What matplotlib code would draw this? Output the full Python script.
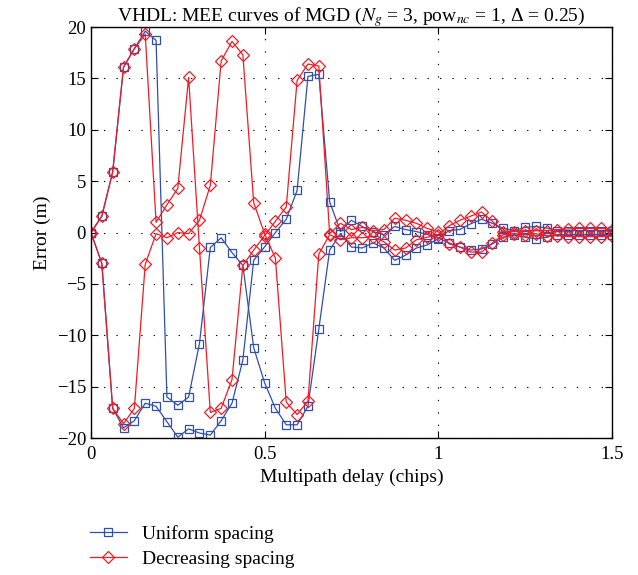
import numpy as np
import matplotlib
matplotlib.use('Agg')
import matplotlib.pyplot as plt
from matplotlib.lines import Line2D

plt.rcParams['font.family'] = ['Liberation Serif', 'DejaVu Serif']
plt.rcParams['mathtext.fontset'] = 'stix'

# multipath delay in chips, step 1/32
delay = np.arange(49) / 32.0

# uniform spacing, two envelope branches
uniform_a = [0, 1.6, 5.9, 16.1, 17.9, 19.6, 18.7, -16.0, -16.8, -16.0,
             -10.8, -1.45, -0.5, -1.95, -3.2, -11.2, -14.6, -17.1, -18.7, -18.7,
             -16.9, -9.4, -1.7, -0.1, -1.4, -1.5, -1.0, -1.5, -2.7, -2.2,
             -1.5, -1.2, -0.6, 0.2, 0.3, 0.85, 1.3, 0.9, 0.4, 0.2,
             0.5, 0.6, 0.45, 0.2, 0.2, 0.2, 0.2, 0.2, 0.2]
uniform_b = [0, -3.0, -17.1, -19.0, -18.3, -16.6, -16.9, -18.4, -19.9, -19.1,
             -19.5, -19.7, -18.3, -16.6, -12.4, -2.7, -1.4, 0.0, 1.3, 4.1,
             15.2, 15.4, 3.0, 0.1, 1.2, 0.6, 0.1, -0.2, 0.6, 0.3,
             0.1, -0.2, -0.5, -1.0, -1.4, -1.7, -1.6, -1.1, -0.45, -0.2,
             -0.45, -0.6, -0.45, -0.2, -0.2, -0.2, -0.2, -0.2, -0.2]

# decreasing spacing, two envelope branches
decreasing_a = [0, 1.6, 5.9, 16.1, 17.9, 19.3, 1.0, 2.7, 4.3, 15.1,
                -1.5, -17.5, -17.1, -14.3, -3.2, -1.7, -0.3, 1.1, 2.5, 14.8,
                16.4, 16.2, -0.1, 0.9, 0.3, 0.5, 0.2, 0.3, 1.4, 1.2,
                0.9, 0.4, 0.1, -1.1, -1.4, -1.9, -1.9, -1.0, -0.2, -0.1,
                -0.2, -0.1, -0.3, -0.3, -0.4, -0.4, -0.4, -0.4, -0.35]
decreasing_b = [0, -3.0, -17.1, -18.6, -17.1, -3.1, -0.1, -0.5, 0.0, -0.1,
                1.2, 4.6, 16.7, 18.6, 17.3, 2.9, -0.1, -2.5, -16.5, -17.7,
                -16.4, -2.1, -0.2, -0.7, -0.5, -0.5, -0.4, -0.9, -1.7, -1.5,
                -0.7, -0.45, -0.2, 0.65, 1.2, 1.6, 2.0, 1.1, 0.1, 0.1,
                0.2, 0.2, 0.2, 0.3, 0.35, 0.4, 0.4, 0.4, 0.3]

blue = '#2f4fa8'
red = '#ee1c25'

fig = plt.figure(figsize=(6.38, 5.75), dpi=100)
ax = fig.add_axes([0.1426, 0.238, 0.8162, 0.715])

blue_style = dict(color=blue, lw=0.9, marker='s', markersize=6.3,
                  markerfacecolor='none', markeredgewidth=0.9)
red_style = dict(color=red, lw=0.9, marker='D', markersize=6.0,
                 markerfacecolor='none', markeredgewidth=0.9)

for ys in (uniform_a, uniform_b):
    ax.plot(delay, ys, **blue_style)
for ys in (decreasing_a, decreasing_b):
    ax.plot(delay, ys, **red_style)

ax.set_xlim(0, 1.5)
ax.set_ylim(-20, 20)
ax.set_xticks([0, 0.5, 1, 1.5])
ax.set_xticklabels(['0', '0.5', '1', '1.5'])
ax.set_yticks(np.arange(-20, 21, 5))
ax.tick_params(direction='in', top=True, right=True, labelsize=13.5, length=5)
ax.tick_params(axis='x', pad=6)
ax.grid(True, color='black', linestyle=(0, (1.2, 10)), linewidth=0.8)
for s in ax.spines.values():
    s.set_linewidth(1.0)

ax.set_xlabel('Multipath delay (chips)', fontsize=14)
ax.set_ylabel('Error (m)', fontsize=14)
ax.set_title(r'VHDL: MEE curves of MGD ($N_g$ = 3, pow$_{nc}$ = 1, Δ = 0.25)',
             fontsize=14, pad=4)

handles = [Line2D([], [], **blue_style), Line2D([], [], **red_style)]
fig.legend(handles, ['Uniform spacing', 'Decreasing spacing'],
           loc='upper left', bbox_to_anchor=(0.141, 0.087), frameon=False,
           fontsize=14, handlelength=1.9, handletextpad=0.8, labelspacing=0.4,
           borderaxespad=0, borderpad=0)

fig.savefig('out.png', dpi=100)
